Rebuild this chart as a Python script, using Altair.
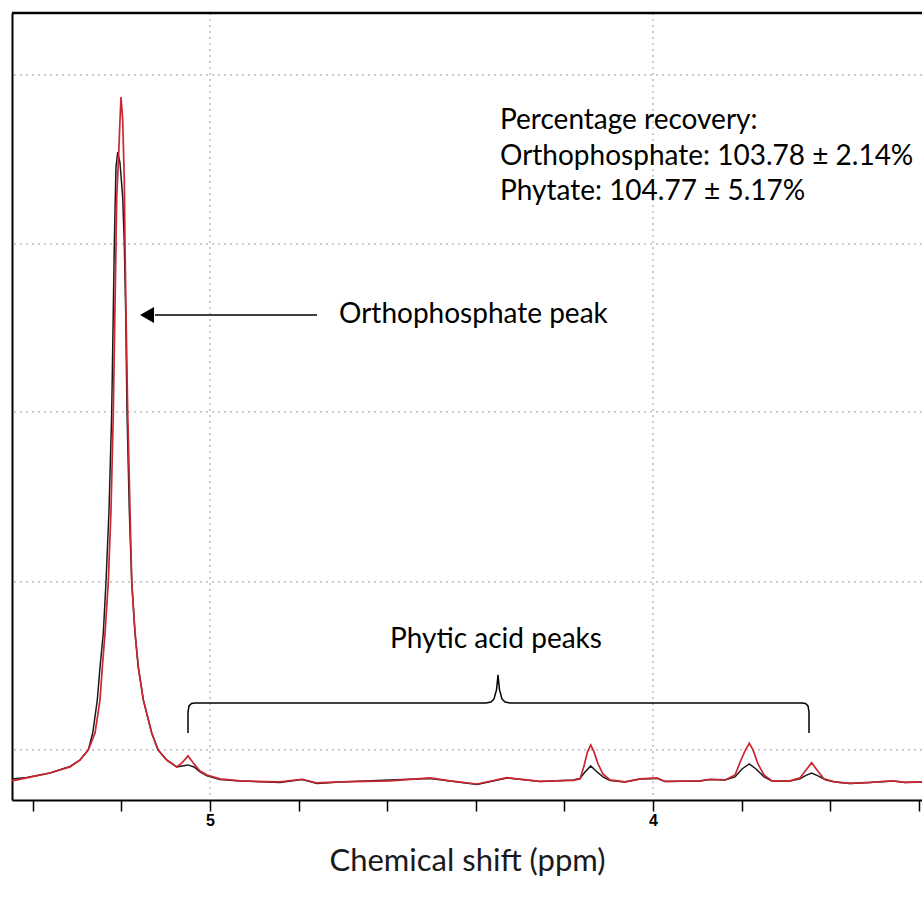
import altair as alt
import pandas as pd

# ---- spectrum data (chemical shift in ppm, intensity in arbitrary units) ----
red_ppm = [5.4470, 5.4138, 5.3612, 5.3160, 5.2935, 5.2747, 5.2596, 5.2483, 5.2431, 5.2370,
           5.2296, 5.2235, 5.2183, 5.2160, 5.2122, 5.2106, 5.2070, 5.2032, 5.2009, 5.1971,
           5.1935, 5.1919, 5.1896, 5.1858, 5.1806, 5.1767, 5.1693, 5.1619, 5.1506, 5.1316,
           5.1174, 5.0977, 5.0752, 5.0632, 5.0497, 5.0361, 5.0226, 5.0068, 4.9774, 4.9323,
           4.8420, 4.7923, 4.7585, 4.7065, 4.5937, 4.5034, 4.4582, 4.3973, 4.3296, 4.2551,
           4.1806, 4.1648, 4.1558, 4.1479, 4.1406, 4.1332, 4.1242, 4.1129, 4.0971, 4.0632,
           4.0293, 3.9910, 3.9729, 3.8939, 3.8713, 3.8375, 3.8149, 3.8014, 3.7912, 3.7826,
           3.7743, 3.7630, 3.7494, 3.7314, 3.6907, 3.6682, 3.6546, 3.6418, 3.6298, 3.6140,
           3.5892, 3.5553, 3.5102, 3.4582, 3.4312, 3.3928]
red_int = [0.06, 0.24, 0.53, 0.89, 1.30, 1.90, 2.90, 4.86, 6.81, 8.83,
           11.85, 16.12, 21.93, 25.78, 31.88, 34.67, 36.68, 39.23, 40.59, 39.23,
           35.67, 31.88, 27.79, 21.93, 16.12, 11.85, 8.83, 6.81, 4.86, 2.90,
           1.90, 1.30, 0.89, 1.13, 1.54, 1.07, 0.65, 0.41, 0.18, 0.06,
           0.0, 0.16, -0.06, 0.0, 0.06, 0.24, 0.06, -0.12, 0.25, 0.03,
           0.09, 0.18, 0.95, 1.78, 2.19, 1.78, 1.07, 0.47, 0.12, 0.0,
           0.18, 0.24, 0.03, 0.06, 0.16, 0.12, 0.41, 1.30, 1.90, 2.29,
           1.90, 1.07, 0.41, 0.06, 0.06, 0.24, 0.71, 1.14, 0.71, 0.18,
           0.0, -0.08, -0.03, 0.06, -0.03, 0.0]

black_ppm = [5.4470, 5.4138, 5.3612, 5.3160, 5.2935, 5.2747, 5.2648, 5.2544, 5.2483, 5.2409,
             5.2348, 5.2280, 5.2219, 5.2196, 5.2160, 5.2138, 5.2122, 5.2084, 5.2032, 5.1971,
             5.1935, 5.1903, 5.1874, 5.1822, 5.1767, 5.1693, 5.1619, 5.1506, 5.1316, 5.1174,
             5.0977, 5.0752, 5.0632, 5.0497, 5.0361, 5.0226, 5.0068, 4.9774, 4.9323, 4.8420,
             4.7923, 4.7585, 4.7065, 4.5937, 4.5034, 4.4582, 4.3973, 4.3296, 4.2551, 4.1806,
             4.1648, 4.1535, 4.1406, 4.1287, 4.1129, 4.0971, 4.0632, 4.0293, 3.9910, 3.9729,
             3.8939, 3.8713, 3.8375, 3.8149, 3.7991, 3.7826, 3.7675, 3.7494, 3.7314, 3.6907,
             3.6682, 3.6546, 3.6418, 3.6275, 3.6095, 3.5892, 3.5553, 3.5102, 3.4582, 3.4312,
             3.3928]
black_int = [0.18, 0.27, 0.53, 0.92, 1.30, 1.90, 2.90, 4.86, 6.81, 8.83,
             11.85, 16.12, 21.93, 25.78, 31.88, 34.67, 36.44, 37.33, 36.68, 34.67,
             31.88, 27.79, 21.93, 16.12, 11.85, 8.83, 6.81, 4.86, 2.90, 1.90,
             1.30, 0.89, 0.95, 1.01, 0.89, 0.59, 0.36, 0.15, 0.06, -0.03,
             0.15, -0.09, 0.0, 0.12, 0.21, 0.06, -0.15, 0.24, 0.03, 0.12,
             0.21, 0.59, 0.95, 0.65, 0.30, 0.09, 0.0, 0.18, 0.21, 0.03,
             0.06, 0.15, 0.12, 0.30, 0.77, 1.07, 0.77, 0.30, 0.06, 0.06,
             0.18, 0.39, 0.52, 0.36, 0.12, 0.0, -0.09, -0.03, 0.06, -0.03,
             0.0]

# brace grouping the phytic acid peaks
brace_ppm = [5.0497, 5.0497, 5.0474, 5.0418, 5.0339, 4.3770, 4.3657, 4.3589, 4.3533, 4.3510,
             4.3499, 4.3488, 4.3465, 4.3409, 4.3341, 4.3228, 3.6637, 3.6558, 3.6501, 3.6479,
             3.6479]
brace_int = [2.904, 4.148, 4.504, 4.652, 4.681, 4.681, 4.741, 4.919, 5.452, 6.044,
             6.341, 6.044, 5.452, 4.919, 4.741, 4.681, 4.681, 4.652, 4.504, 4.148,
             2.904]

tick_values = [5.4, 5.2, 5.0, 4.8, 4.6, 4.4, 4.2, 4.0, 3.8, 3.6, 3.4]
x_grid = [5.0, 4.0]
y_grid = [1.9, 11.85, 21.93, 31.88, 41.9]
recovery_lines = ["Percentage recovery:",
                  "Orthophosphate: 103.78 \u00b1 2.14%",
                  "Phytate: 104.77 \u00b1 5.17%"]
X_DOMAIN = [3.3928, 5.447]
Y_DOMAIN = [-1.07, 45.57]

FONT = "Lato"
TXT = 28

red_df = pd.DataFrame({"ppm": red_ppm, "intensity": red_int, "order": range(len(red_ppm))})
black_df = pd.DataFrame({"ppm": black_ppm, "intensity": black_int, "order": range(len(black_ppm))})
brace_df = pd.DataFrame({"ppm": brace_ppm, "intensity": brace_int, "order": range(len(brace_ppm))})

xs = alt.Scale(domain=X_DOMAIN, reverse=True, nice=False, zero=False)
ys = alt.Scale(domain=Y_DOMAIN, nice=False, zero=False)

x_axis = alt.Axis(values=tick_values,
                  labelExpr="abs(datum.value - round(datum.value)) < 0.01 ? format(datum.value, 'd') : ''",
                  grid=False, domain=True, domainColor="black", domainWidth=2,
                  ticks=True, tickColor="black", tickWidth=1.5, tickSize=11,
                  labelFont="Liberation Sans", labelFontWeight="bold", labelFontSize=16,
                  labelColor="black", labelPadding=1,
                  title="Chemical shift (ppm)", titleFont=FONT, titleFontSize=31,
                  titleFontWeight="normal", titleColor="#1a1a1a", titlePadding=18)
y_axis = alt.Axis(domain=True, domainColor="black", domainWidth=2, ticks=False,
                  labels=False, grid=False, title=None)

xgrid = alt.Chart(pd.DataFrame({"g": x_grid})).mark_rule(
    color="#9a9a9a", strokeDash=[2, 4], strokeWidth=1
).encode(x=alt.X("g:Q", scale=xs, axis=x_axis))

ygrid = alt.Chart(pd.DataFrame({"g": y_grid})).mark_rule(
    color="#9a9a9a", strokeDash=[2, 4], strokeWidth=1
).encode(y=alt.Y("g:Q", scale=ys, axis=y_axis))

black_line = alt.Chart(black_df).mark_line(color="#1a1a1a", strokeWidth=1.5).encode(
    x=alt.X("ppm:Q", scale=xs, axis=x_axis),
    y=alt.Y("intensity:Q", scale=ys, axis=y_axis),
    order="order:Q",
)
red_line = alt.Chart(red_df).mark_line(color="#cc2630", strokeWidth=1.7).encode(
    x=alt.X("ppm:Q", scale=xs, axis=x_axis),
    y=alt.Y("intensity:Q", scale=ys, axis=y_axis),
    order="order:Q",
)
brace = alt.Chart(brace_df).mark_line(color="black", strokeWidth=1.5).encode(
    x=alt.X("ppm:Q", scale=xs, axis=x_axis),
    y=alt.Y("intensity:Q", scale=ys, axis=y_axis),
    order="order:Q",
)

arrow_shaft = alt.Chart(pd.DataFrame({"a": [0]})).mark_rule(color="black", strokeWidth=1.3).encode(
    x=alt.XDatum(5.1242, axis=x_axis), x2=alt.datum(4.7585), y=alt.YDatum(27.674, axis=y_axis)
)
arrow_head = alt.Chart(pd.DataFrame({"a": [0]})).mark_point(
    shape="triangle-left", filled=True, color="black", opacity=1, size=260
).encode(x=alt.XDatum(5.1422, axis=x_axis), y=alt.YDatum(27.674, axis=y_axis))

def label(text, xv, yv, align="left"):
    return alt.Chart(pd.DataFrame({"a": [0]})).mark_text(
        align=align, baseline="alphabetic", font=FONT, fontSize=TXT, color="black"
    ).encode(x=alt.XDatum(xv, axis=x_axis), y=alt.YDatum(yv, axis=y_axis), text=alt.value(text))

t_ortho = label("Orthophosphate peak", 4.7088, 27.2)
t_phytic = label("Phytic acid peaks", 4.3544, 7.94, align="center")
t_rec1 = label(recovery_lines[0], 4.3454, 38.72)
t_rec2 = label(recovery_lines[1], 4.3454, 36.56)
t_rec3 = label(recovery_lines[2], 4.3454, 34.49)

top_frame = alt.Chart(pd.DataFrame({"a": [0]})).mark_rule(color="black", strokeWidth=2.5).encode(
    y=alt.YDatum(Y_DOMAIN[1], axis=y_axis)
)

chart = alt.layer(
    xgrid, ygrid, black_line, red_line, brace, arrow_shaft, arrow_head,
    t_ortho, t_phytic, t_rec1, t_rec2, t_rec3, top_frame
).properties(
    width=910, height=787,
    padding={"left": 12, "top": 13, "right": 0, "bottom": 97},
    autosize=alt.AutoSizeParams(type="none"),
    background="white",
).configure_view(strokeWidth=0)

chart.save("out.html", embed_options={"renderer": "svg", "actions": False})
